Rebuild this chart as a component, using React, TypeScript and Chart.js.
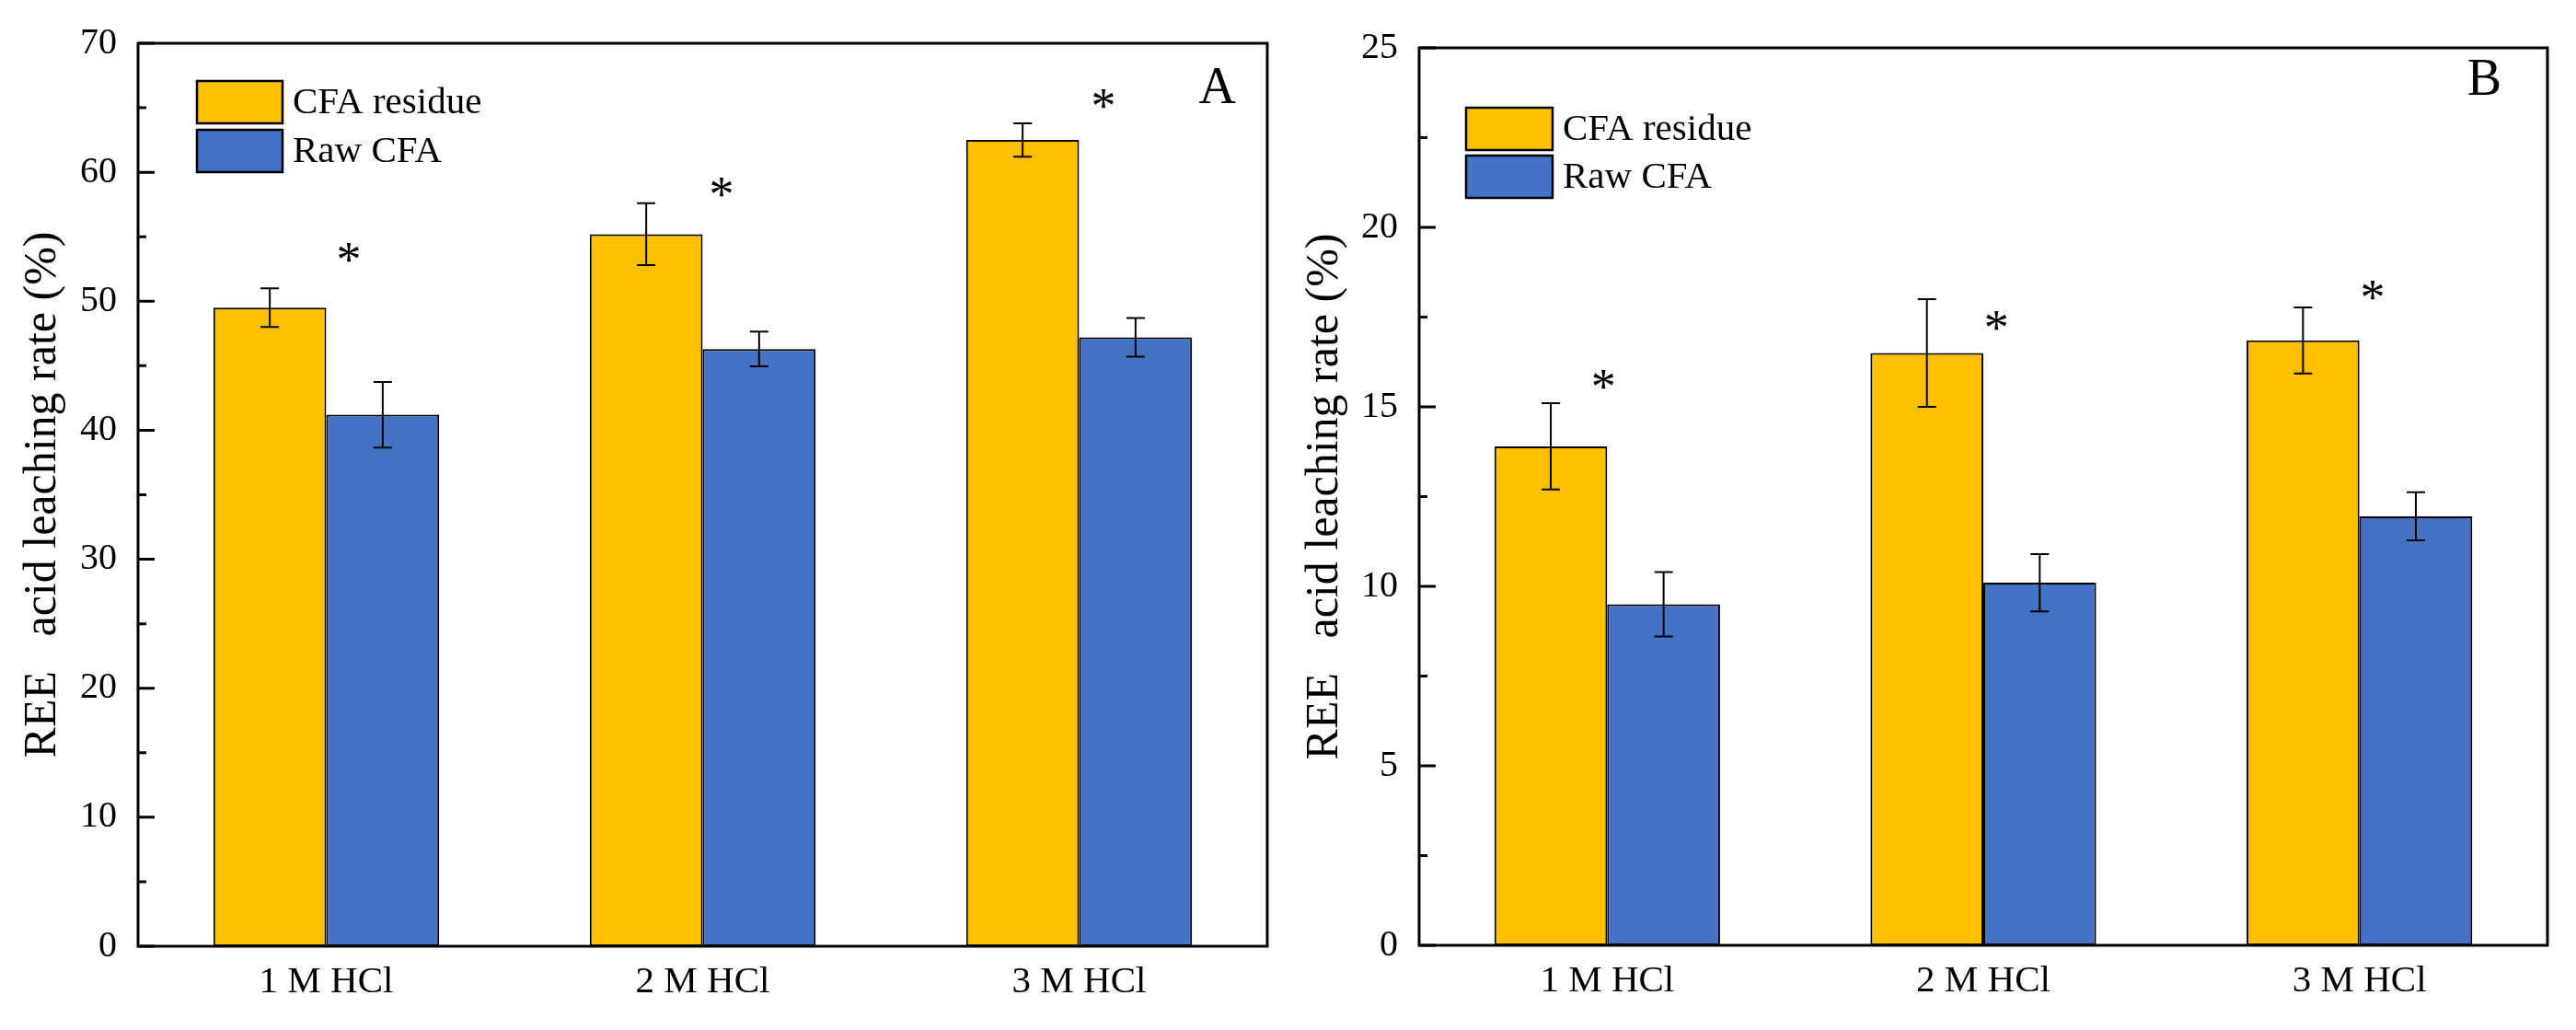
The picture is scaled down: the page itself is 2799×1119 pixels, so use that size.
import React, { useEffect, useRef } from 'react';
import { Chart, registerables } from 'chart.js';

Chart.register(...registerables);

// ---------- data ----------
const categories = ['1 M HCl', '2 M HCl', '3 M HCl'];
const seriesNames = ['CFA residue', 'Raw CFA'];

// Panel A
const residueA = [49.5, 55.2, 62.5];
const residueErrA = [1.5, 2.4, 1.3];
const rawA = [41.2, 46.3, 47.2];
const rawErrA = [2.55, 1.35, 1.5];
const starA = [53.8, 58.8, 65.7];
const yMaxA = 70;
const yStepA = 10;

// Panel B
const residueB = [13.9, 16.5, 16.85];
const residueErrB = [1.2, 1.5, 0.92];
const rawB = [9.5, 10.1, 11.95];
const rawErrB = [0.9, 0.8, 0.67];
const starB = [15.75, 17.4, 18.25];
const yMaxB = 25;
const yStepB = 5;

const yTitle = 'REE   acid leaching rate (%)';

// ---------- style ----------
const FONT = "'Liberation Serif', 'Times New Roman', serif";
const YELLOW = '#FFC000';
const BLUE = '#4472C4';

type Panel = {
  label: string;
  residue: number[];
  residueErr: number[];
  raw: number[];
  rawErr: number[];
  stars: number[];
  yMax: number;
  yStep: number;
  width: number;
  left: number;
  areaLeft: number;
  areaRight: number;
  areaTop: number;
  areaBottom: number;
  titlePad: number;
  starShift: number[];
  legendDx: number;
  legendDy: number;
  legendW: number;
  legendH: number;
  legendGap: number;
  labelDx: number;
  labelDy: number;
};

const H = 1119;

const panels: Panel[] = [
  {
    label: 'A',
    residue: residueA,
    residueErr: residueErrA,
    raw: rawA,
    rawErr: rawErrA,
    stars: starA,
    yMax: yMaxA,
    yStep: yStepA,
    width: 1400,
    left: 0,
    areaLeft: 150,
    areaRight: 1377,
    areaTop: 42,
    areaBottom: 1028,
    titlePad: 17,
    starShift: [0.06, 0.05, 0.065],
    legendDx: 64,
    legendDy: 41,
    legendW: 93,
    legendH: 46,
    legendGap: 7,
    labelDx: 34,
    labelDy: 65,
  },
  {
    label: 'B',
    residue: residueB,
    residueErr: residueErrB,
    raw: rawB,
    rawErr: rawErrB,
    stars: starB,
    yMax: yMaxB,
    yStep: yStepB,
    width: 1399,
    left: 1400,
    areaLeft: 142,
    areaRight: 1368,
    areaTop: 52,
    areaBottom: 1027,
    titlePad: 10,
    starShift: [-0.01, 0.035, 0.035],
    legendDx: 51,
    legendDy: 65,
    legendW: 94,
    legendH: 46,
    legendGap: 6,
    labelDx: 50,
    labelDy: 51,
  },
];

function overlayPlugin(p: Panel) {
  return {
    id: 'overlay' + p.label,
    afterDatasetsDraw(chart: any) {
      const ctx: CanvasRenderingContext2D = chart.ctx;
      const { left, right, top, bottom } = chart.chartArea;
      const ys = chart.scales.y;
      const xs = chart.scales.x;
      const errs = [p.residueErr, p.rawErr];
      ctx.save();
      ctx.strokeStyle = '#000';
      ctx.fillStyle = '#000';

      // error bars
      chart.data.datasets.forEach((ds: any, di: number) => {
        const meta = chart.getDatasetMeta(di);
        meta.data.forEach((el: any, i: number) => {
          const v = ds.data[i];
          const e = errs[di][i];
          const yh = ys.getPixelForValue(v + e);
          const yl = ys.getPixelForValue(v - e);
          ctx.lineWidth = 2;
          ctx.beginPath();
          ctx.moveTo(el.x, yh);
          ctx.lineTo(el.x, yl);
          ctx.moveTo(el.x - 10, yh);
          ctx.lineTo(el.x + 10, yh);
          ctx.moveTo(el.x - 10, yl);
          ctx.lineTo(el.x + 10, yl);
          ctx.stroke();
        });
      });

      // significance asterisks
      const catW = (right - left) / categories.length;
      ctx.font = `54px ${FONT}`;
      ctx.textAlign = 'center';
      ctx.textBaseline = 'alphabetic';
      const m = ctx.measureText('*');
      const dy = (m.actualBoundingBoxAscent - m.actualBoundingBoxDescent) / 2;
      p.stars.forEach((v, i) => {
        const cx = xs.getPixelForValue(i) + p.starShift[i] * catW;
        const cy = ys.getPixelForValue(v);
        ctx.fillText('*', cx, cy + dy);
      });

      // frame
      ctx.lineWidth = 3;
      ctx.strokeRect(left, top, right - left, bottom - top);

      // inward y ticks (major + minor)
      ctx.lineWidth = 3;
      ctx.beginPath();
      for (let k = 0; k <= (p.yMax / p.yStep) * 2; k++) {
        const v = (k * p.yStep) / 2;
        const y = ys.getPixelForValue(v);
        const len = k % 2 === 0 ? 18 : 9;
        ctx.moveTo(left, y);
        ctx.lineTo(left + len, y);
      }
      ctx.stroke();

      // legend
      const colors = [YELLOW, BLUE];
      ctx.font = `41px ${FONT}`;
      ctx.textAlign = 'left';
      ctx.textBaseline = 'middle';
      seriesNames.forEach((name, i) => {
        const bx = left + p.legendDx;
        const by = top + p.legendDy + i * (p.legendH + p.legendGap);
        ctx.fillStyle = colors[i];
        ctx.fillRect(bx, by, p.legendW, p.legendH);
        ctx.lineWidth = 2.5;
        ctx.strokeStyle = '#000';
        ctx.strokeRect(bx, by, p.legendW, p.legendH);
        ctx.fillStyle = '#000';
        ctx.fillText(name, bx + p.legendW + 11, by + p.legendH / 2 + 1);
      });

      // panel label
      ctx.font = `56px ${FONT}`;
      ctx.textAlign = 'right';
      ctx.textBaseline = 'alphabetic';
      ctx.fillText(p.label, right - p.labelDx, top + p.labelDy);

      ctx.restore();
    },
  };
}

function PanelChart({ p }: { p: Panel }) {
  const ref = useRef<HTMLCanvasElement | null>(null);
  useEffect(() => {
    if (!ref.current) return;
    const chart = new Chart(ref.current, {
      type: 'bar',
      data: {
        labels: categories,
        datasets: [
          {
            label: seriesNames[0],
            data: p.residue,
            backgroundColor: YELLOW,
            borderColor: '#000',
            borderWidth: 2,
            borderSkipped: false,
          },
          {
            label: seriesNames[1],
            data: p.raw,
            backgroundColor: BLUE,
            borderColor: '#000',
            borderWidth: 2,
            borderSkipped: false,
          },
        ],
      },
      options: {
        responsive: false,
        animation: false,
        devicePixelRatio: 1,
        layout: {
          padding: {
            left: 0,
            top: p.areaTop,
            right: p.width - p.areaRight,
            bottom: 0,
          },
        },
        datasets: {
          bar: { categoryPercentage: 0.6, barPercentage: 1.0 },
        },
        plugins: {
          legend: { display: false },
          tooltip: { enabled: false },
          title: { display: false },
        },
        scales: {
          x: {
            type: 'category',
            offset: true,
            grid: { display: false, drawTicks: false },
            border: { display: false },
            ticks: {
              color: '#000',
              font: { family: FONT, size: 41 },
              padding: 15,
              maxRotation: 0,
              autoSkip: false,
            },
            afterFit: (s: any) => {
              s.height = H - p.areaBottom;
            },
          },
          y: {
            type: 'linear',
            min: 0,
            max: p.yMax,
            grid: { display: false, drawTicks: false },
            border: { display: false },
            ticks: {
              stepSize: p.yStep,
              color: '#000',
              font: { family: FONT, size: 40 },
              padding: 23,
            },
            title: {
              display: true,
              text: yTitle,
              color: '#000',
              font: { family: FONT, size: 50 },
              padding: { top: p.titlePad, bottom: 0 },
            },
            afterFit: (s: any) => {
              s.width = p.areaLeft;
            },
          },
        },
      },
      plugins: [overlayPlugin(p)],
    } as any);
    return () => chart.destroy();
  }, [p]);
  return (
    <canvas
      ref={ref}
      width={p.width}
      height={H}
      style={{ position: 'absolute', left: p.left, top: 0, width: p.width, height: H, display: 'block' }}
    />
  );
}

export default function App() {
  return (
    <div style={{ position: 'absolute', left: 0, top: 0, width: 2799, height: H, background: '#fff', overflow: 'hidden' }}>
      {panels.map((p) => (
        <PanelChart key={p.label} p={p} />
      ))}
    </div>
  );
}
